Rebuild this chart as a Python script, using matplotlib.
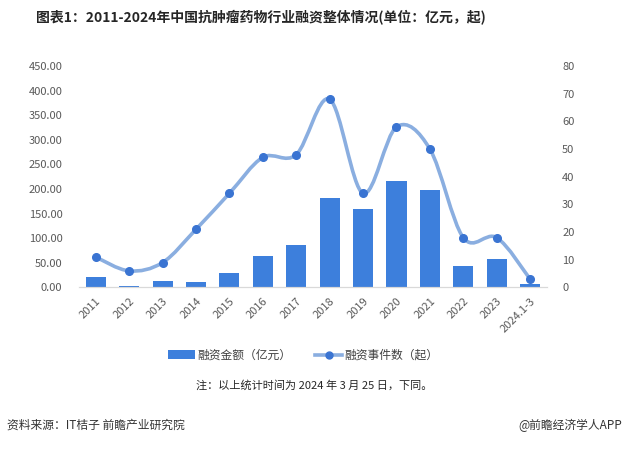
import matplotlib
matplotlib.use("Agg")
import matplotlib.pyplot as plt
from matplotlib.path import Path
from matplotlib.patches import PathPatch, Patch
from matplotlib.lines import Line2D
import numpy as np

plt.rcParams['font.family'] = ['Noto Sans CJK SC', 'DejaVu Sans']

years = ["2011", "2012", "2013", "2014", "2015", "2016", "2017", "2018",
         "2019", "2020", "2021", "2022", "2023", "2024.1-3"]
amount = [22, 3, 14, 11, 30, 64, 86, 182, 160, 217, 198, 44, 58, 8]
events = [11, 6, 9, 21, 34, 47, 48, 68, 34, 58, 50, 18, 18, 3]

left_ticks = [0, 50, 100, 150, 200, 250, 300, 350, 400, 450]
right_ticks = [0, 10, 20, 30, 40, 50, 60, 70, 80]

bar_color = "#3d7fdc"
line_color = "#8aaee0"
marker_color = "#3a74d2"
tick_color = "#595959"

fig = plt.figure(figsize=(6.25, 4.49), dpi=100)
ax = fig.add_axes([0.1264, 0.3597, 0.875 - 0.1264, 0.853 - 0.3597])
ax2 = ax.twinx()

x = np.arange(len(years))
ax.bar(x, amount, width=0.6, color=bar_color, zorder=2)
ax.set_xlim(-0.5, len(years) - 0.5)
ax.set_ylim(0, 450)
ax.set_yticks(left_ticks)
ax.set_yticklabels([f"{v:.2f}" for v in left_ticks])
ax.set_xticks(x)
ax.set_xticklabels(years, rotation=45, ha="right", rotation_mode="anchor")
ax.tick_params(axis="both", length=0, labelsize=8, colors=tick_color)
ax.tick_params(axis="y", pad=12)
ax.tick_params(axis="x", pad=6)

ax2.set_ylim(0, 80)
ax2.set_yticks(right_ticks)
ax2.tick_params(axis="y", length=0, labelsize=8, colors=tick_color, pad=11)

for a in (ax, ax2):
    for s in ("top", "left", "right"):
        a.spines[s].set_visible(False)
    a.spines["bottom"].set_color("#d9d9d9")

# smooth curve (Catmull-Rom style Bezier through the data points)
pts = np.column_stack([x, events]).astype(float)
verts = [tuple(pts[0])]
codes = [Path.MOVETO]
n = len(pts)
for i in range(n - 1):
    p0 = pts[i - 1] if i > 0 else pts[i]
    p1 = pts[i]
    p2 = pts[i + 1]
    p3 = pts[i + 2] if i + 2 < n else pts[i + 1]
    c1 = p1 + (p2 - p0) / 6.0
    c2 = p2 - (p3 - p1) / 6.0
    verts += [tuple(c1), tuple(c2), tuple(p2)]
    codes += [Path.CURVE4] * 3
path = Path(verts, codes)
ax2.add_patch(PathPatch(path, facecolor="none", edgecolor=line_color,
                        lw=2.6, zorder=3, capstyle="round"))
ax2.plot(x, events, linestyle="none", marker="o", markersize=5.5,
         color=marker_color, zorder=4)

handles = [Patch(facecolor=bar_color, edgecolor="none"),
           Line2D([0], [0], color=line_color, lw=2.6, marker="o",
                  markersize=5, markerfacecolor=marker_color,
                  markeredgecolor=marker_color)]
fig.legend(handles, ["融资金额（亿元）", "融资事件数（起）"],
           loc="center", bbox_to_anchor=(0.485, 0.209), ncol=2,
           frameon=False, fontsize=8.5, handlelength=2.3,
           handletextpad=0.2, columnspacing=2.0, labelcolor="#404040")

fig.text(0.418, 1 - 18 / 449, "图表1：2011-2024年中国抗肿瘤药物行业融资整体情况(单位：亿元，起)",
         ha="center", va="center", fontsize=10, fontweight="bold", color="#262626")
fig.text(0.503, 1 - 385 / 449, "注：以上统计时间为 2024 年 3 月 25 日，下同。",
         ha="center", va="center", fontsize=8, color="#262626")
fig.text(0.011, 1 - 425 / 449, "资料来源：IT桔子 前瞻产业研究院",
         ha="left", va="center", fontsize=8.5, color="#333333")
fig.text(0.995, 1 - 425 / 449, "@前瞻经济学人APP",
         ha="right", va="center", fontsize=8.5, color="#333333")

fig.savefig("out.png", dpi=100, facecolor="white")
